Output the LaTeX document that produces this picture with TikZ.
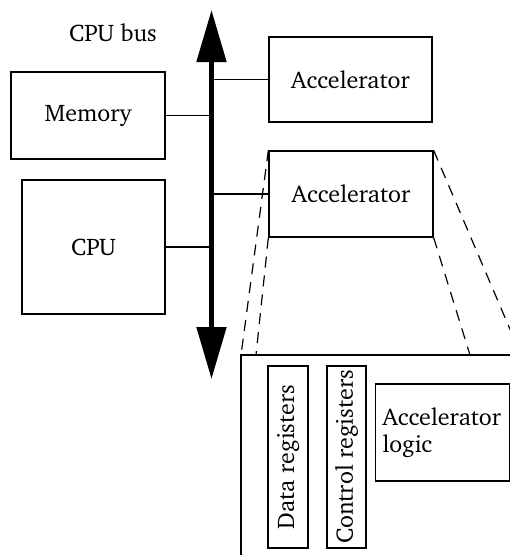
\documentclass[tikz,border=0pt]{standalone}
\usepackage[T1]{fontenc}
\usepackage{charter}
\usetikzlibrary{arrows.meta}
\begin{document}
\begin{tikzpicture}[x=1pt,y=-1pt,
  every node/.style={font=\fontsize{24}{27}\selectfont},
  blk/.style={draw, line width=1.3pt, inner sep=0pt},
  wire/.style={line width=1.2pt},
  dashln/.style={line width=1.2pt, dash pattern=on 11pt off 8pt},
  bus/.style={line width=5pt, {Triangle[length=52pt,width=29pt]}-{Triangle[length=52pt,width=29pt]}}]
\useasboundingbox (0,0) rectangle (510,555);
\clip (0,0) rectangle (510,555);
% bus
\coordinate (btop) at (211.5,10);
\coordinate (bbot) at (211.5,379);
\draw[bus] (bbot) -- (btop);
\node (lbl) at (113,33) {CPU bus};
% boxes
\node[blk, minimum width=154pt, minimum height=87pt] (mem) at (88,115.5) {Memory};
\node[blk, minimum width=143pt, minimum height=134pt] (cpu) at (93.5,247) {CPU};
\node[blk, minimum width=163pt, minimum height=85pt] (acc1) at (350.5,79.5) {Accelerator};
\node[blk, minimum width=164pt, minimum height=86pt] (acc2) at (351,194) {Accelerator};
% connections
\draw[wire] (mem.east) -- (mem.east -| btop);
\draw[wire] (cpu.east) -- (cpu.east -| btop);
\draw[wire] (acc1.west) -- (acc1.west -| btop);
\draw[wire] (acc2.west) -- (acc2.west -| btop);
% expanded accelerator
\coordinate (bigtl) at (241,355);
\coordinate (bigbl) at (241,560);
\coordinate (bigtr) at (525,355);
\draw[wire] (bigbl) -- (bigtl) -- (bigtr);
\coordinate (d2) at (256,355);
\coordinate (d3) at (470,355);
\coordinate (d4) at (521,355);
\draw[dashln] (acc2.north west) -- (bigtl);
\draw[dashln] (acc2.south west) -- (d2);
\draw[dashln] (acc2.south east) -- (d3);
\draw[dashln] (acc2.north east) -- (d4);
\node[blk, rotate=90, minimum width=182pt, minimum height=40pt] (data) at (288,457) {Data registers};
\node[blk, rotate=90, minimum width=182pt, minimum height=39pt] (ctrl) at (346.5,457) {Control registers};
\node[blk, minimum width=133pt, minimum height=97pt, text width=120pt, inner xsep=7pt, align=left] (logic) at (442.5,432.5) {Accelerator\\logic};
\end{tikzpicture}
\end{document}
